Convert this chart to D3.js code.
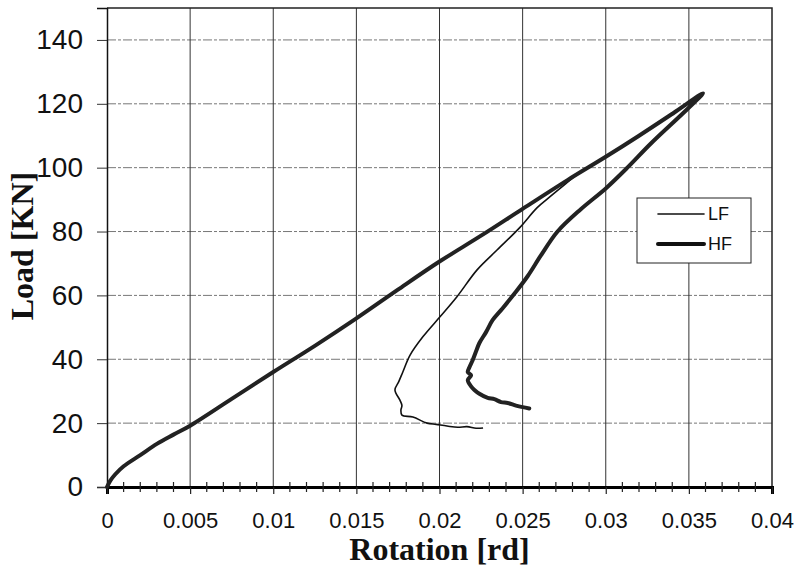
<!DOCTYPE html>
<html>
<head>
<meta charset="utf-8">
<script src="https://cdnjs.cloudflare.com/ajax/libs/d3/7.8.5/d3.min.js"></script>
<style>
  body { margin: 0; background: #fff; }
  svg { display: block; }
</style>
</head>
<body>
<script>
// chart data
var hfRotation = [0, 0.0002, 0.0005, 0.001, 0.002, 0.003, 0.004, 0.005, 0.0075, 0.01, 0.0125, 0.015, 0.0175, 0.02, 0.0225, 0.025, 0.0277, 0.03, 0.032, 0.0341, 0.03585,
    0.0349, 0.0327, 0.0313, 0.03, 0.0285, 0.0271, 0.0261, 0.0253, 0.0245, 0.0238, 0.0232, 0.0228, 0.0224, 0.0222, 0.022, 0.0218, 0.0217, 0.0219, 0.0217, 0.0219, 0.0221, 0.0224, 0.0229, 0.0233, 0.0237, 0.0241, 0.0246, 0.0250, 0.0254];
var hfLoad = [0, 2, 4, 6.5, 10, 13.5, 16.4, 19.2, 27.6, 36, 44.2, 52.8, 61.8, 70.6, 78.7, 87.1, 96.1, 103.4, 110, 117.2, 123.3,
    118.3, 107.5, 100, 93.5, 87, 80, 72.5, 66, 60.5, 56, 52.3, 48.5, 45.1, 42.5, 39.8, 37.5, 36, 35, 33.5, 31.5, 30.4, 29.2, 27.9, 27.5, 26.6, 26.3, 25.5, 25, 24.6];

var lfRotation = [0, 0.0002, 0.0005, 0.001, 0.002, 0.003, 0.004, 0.005, 0.0075, 0.01, 0.0125, 0.015, 0.0175, 0.02, 0.0225, 0.025, 0.0277, 0.0283,
    0.0276, 0.02665, 0.02586, 0.02484, 0.02346, 0.02226, 0.02105, 0.02003, 0.01901, 0.01823, 0.0178, 0.01755, 0.01732, 0.01762, 0.01774, 0.01768, 0.01774, 0.0184, 0.01925, 0.0198, 0.02045, 0.0211, 0.02165, 0.0222, 0.02262];
var lfLoad = [0, 2, 4, 6.5, 10, 13.5, 16.4, 19.2, 27.6, 36, 44.2, 52.8, 61.8, 70.6, 78.7, 87.1, 96.1, 98.1,
    95, 90.9, 87.4, 81.3, 74.2, 68, 59.6, 53.3, 47.1, 41.3, 36.1, 33, 30.4, 27.2, 25.5, 24.1, 22.5, 21.9, 20, 19.6, 19.1, 18.7, 18.9, 18.4, 18.5];

var xTicks = [0, 0.005, 0.01, 0.015, 0.02, 0.025, 0.03, 0.035, 0.04];
var yTicks = [0, 20, 40, 60, 80, 100, 120, 140];

var width = 800,
    height = 568;
var margin = {top: 8, right: 28, bottom: 81, left: 107};

var x = d3.scaleLinear()
    .domain([0, 0.04])
    .range([margin.left, width - margin.right]);

var y = d3.scaleLinear()
    .domain([0, 150])
    .range([height - margin.bottom, margin.top]);

var svg = d3.select('body')
    .append('svg')
    .attr('width', width)
    .attr('height', height);

svg.append('rect')
    .attr('width', width)
    .attr('height', height)
    .attr('fill', '#fff');

// horizontal grid lines, light and broken like the scan
svg.append('g')
    .selectAll('line')
    .data(yTicks.slice(1))
    .enter().append('line')
    .attr('x1', x(0))
    .attr('x2', x(0.04))
    .attr('y1', function(d) { return y(d); })
    .attr('y2', function(d) { return y(d); })
    .attr('stroke', '#777')
    .attr('stroke-width', 1)
    .attr('stroke-dasharray', '9,2,3,2');

// vertical grid lines
svg.append('g')
    .selectAll('line')
    .data(xTicks.slice(1, -1))
    .enter().append('line')
    .attr('x1', function(d) { return x(d); })
    .attr('x2', function(d) { return x(d); })
    .attr('y1', y(150))
    .attr('y2', y(0))
    .attr('stroke', '#333')
    .attr('stroke-width', 1);

// frame: top, right
svg.append('path')
    .attr('d', 'M' + x(0) + ',' + y(150) + 'H' + x(0.04) + 'V' + y(0))
    .attr('fill', 'none')
    .attr('stroke', '#222')
    .attr('stroke-width', 1.5);

// x axis with minor ticks every 0.001
var xMinor = d3.range(1, 40).filter(function(i) { return i % 5 != 0; }).map(function(i) { return i / 1000; });

var xAxis = svg.append('g')
    .attr('transform', 'translate(0,' + y(0) + ')')
    .call(d3.axisBottom(x)
        .tickValues(xTicks)
        .tickFormat(function(d) { return d3.format('')(+d.toFixed(3)); })
        .tickSize(7)
        .tickPadding(18));

xAxis.select('.domain')
    .attr('stroke', '#000')
    .attr('stroke-width', 3);

xAxis.selectAll('.tick line')
    .attr('stroke', '#222')
    .attr('stroke-width', 1.2);

xAxis.selectAll('.tick text')
    .attr('font-family', 'Liberation Sans, Arial, sans-serif')
    .attr('font-size', 22)
    .attr('fill', '#111');

xAxis.append('g')
    .selectAll('line')
    .data(xMinor)
    .enter().append('line')
    .attr('x1', function(d) { return x(d); })
    .attr('x2', function(d) { return x(d); })
    .attr('y1', -5)
    .attr('y2', 5)
    .attr('stroke', '#222')
    .attr('stroke-width', 1.2);

// y axis
var yAxis = svg.append('g')
    .attr('transform', 'translate(' + x(0) + ',0)')
    .call(d3.axisLeft(y)
        .tickValues(yTicks)
        .tickSize(10)
        .tickPadding(14));

yAxis.select('.domain')
    .attr('stroke', '#111')
    .attr('stroke-width', 1.5);

yAxis.selectAll('.tick line')
    .attr('stroke', '#333')
    .attr('stroke-width', 1);

yAxis.selectAll('.tick text')
    .attr('font-family', 'Liberation Sans, Arial, sans-serif')
    .attr('font-size', 28)
    .attr('fill', '#111');

// curves
var line = d3.line()
    .x(function(d) { return x(d[0]); })
    .y(function(d) { return y(d[1]); })
    .curve(d3.curveCatmullRom.alpha(0.5));

var lf = d3.zip(lfRotation, lfLoad);
var hf = d3.zip(hfRotation, hfLoad);

svg.append('path')
    .datum(lf)
    .attr('d', line)
    .attr('fill', 'none')
    .attr('stroke', '#111')
    .attr('stroke-width', 1.6)
    .attr('stroke-linejoin', 'round');

svg.append('path')
    .datum(hf)
    .attr('d', line)
    .attr('fill', 'none')
    .attr('stroke', '#222')
    .attr('stroke-width', 4)
    .attr('stroke-linejoin', 'round')
    .attr('stroke-linecap', 'round');

// legend
var legend = svg.append('g')
    .attr('transform', 'translate(637,198)');

legend.append('rect')
    .attr('width', 114)
    .attr('height', 65)
    .attr('fill', '#fff')
    .attr('stroke', '#222')
    .attr('stroke-width', 1);

var series = [{name: 'LF', width: 1.6}, {name: 'HF', width: 4}];

legend.selectAll('.item')
    .data(series)
    .enter().append('g')
    .attr('class', 'item')
    .attr('transform', function(d, i) { return 'translate(0,' + (16 + i * 30) + ')'; })
    .each(function(d) {
        var g = d3.select(this);
        g.append('line')
            .attr('x1', 21)
            .attr('x2', 67)
            .attr('stroke', '#111')
            .attr('stroke-width', d.width)
            .attr('stroke-linecap', 'round');
        g.append('text')
            .attr('x', 71)
            .attr('dy', '0.36em')
            .attr('font-family', 'Liberation Sans, Arial, sans-serif')
            .attr('font-size', 18)
            .attr('fill', '#111')
            .text(d.name);
    });

// axis titles
svg.append('text')
    .attr('x', (x(0) + x(0.04)) / 2)
    .attr('y', 560)
    .attr('text-anchor', 'middle')
    .attr('font-family', 'Liberation Serif, Times New Roman, serif')
    .attr('font-weight', 'bold')
    .attr('font-size', 32)
    .attr('fill', '#111')
    .text('Rotation [rd]');

svg.append('text')
    .attr('transform', 'translate(33,246) rotate(-90)')
    .attr('text-anchor', 'middle')
    .attr('font-family', 'Liberation Serif, Times New Roman, serif')
    .attr('font-weight', 'bold')
    .attr('font-size', 32)
    .attr('fill', '#111')
    .text('Load [KN]');
</script>
</body>
</html>
